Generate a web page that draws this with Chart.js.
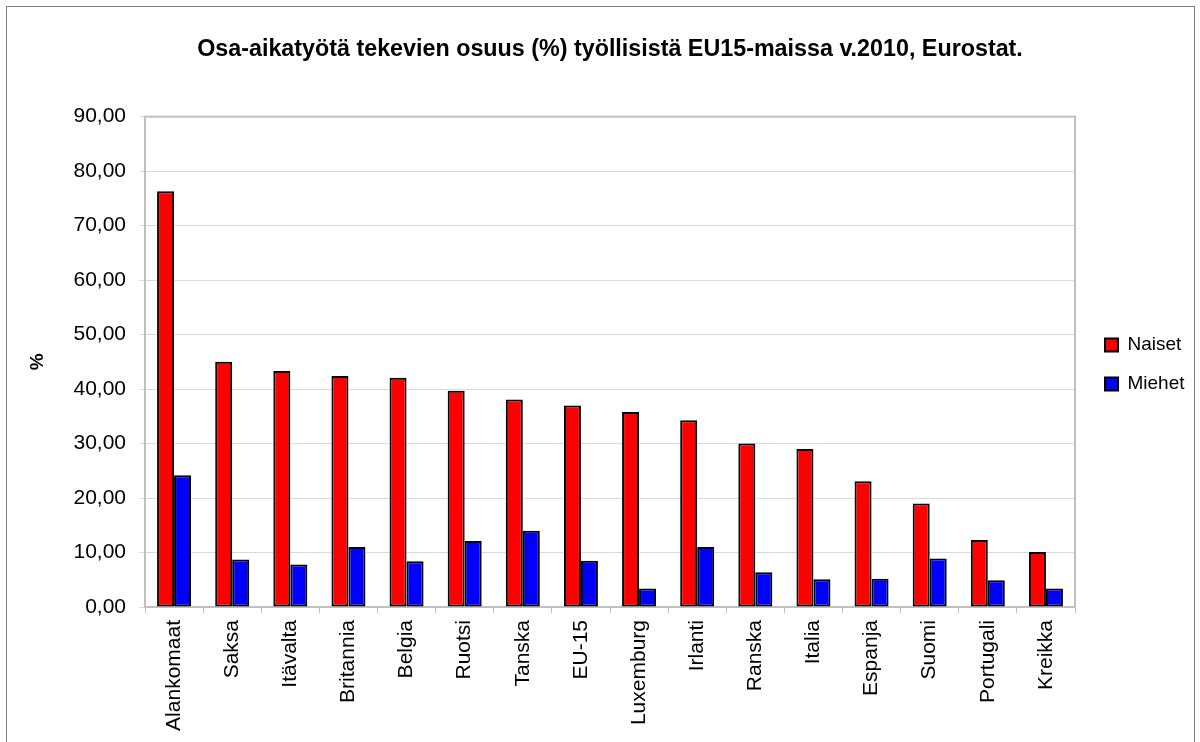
<!DOCTYPE html>
<html>
<head>
<meta charset="utf-8">
<script src="https://cdn.jsdelivr.net/npm/chart.js@4"></script>
<style>
  html, body { margin: 0; padding: 0; background: #fff; overflow: hidden; }
  #frame { position: absolute; left: 6px; top: 6px; width: 1187px; height: 800px; border: 1px solid #808080; pointer-events: none; }
  canvas { position: absolute; left: 0; top: 0; }
</style>
</head>
<body>
<div id="frame"></div>
<canvas id="osaAikaBar" width="1200" height="742"></canvas>
<script>
// maat, jarjestetty naisten osuuden mukaan
let maat = ["Alankomaat", "Saksa", "Itävalta", "Britannia", "Belgia", "Ruotsi", "Tanska", "EU-15",
    "Luxemburg", "Irlanti", "Ranska", "Italia", "Espanja", "Suomi", "Portugali", "Kreikka"];

let naiset = [76.3, 45.0, 43.3, 42.4, 42.1, 39.7, 38.1, 37.0, 35.8, 34.3, 30.0, 29.0, 23.1, 19.0, 12.3, 10.1];
let miehet = [24.2, 8.7, 7.8, 11.0, 8.4, 12.1, 14.0, 8.5, 3.4, 11.0, 6.4, 5.1, 5.2, 8.9, 4.9, 3.4];

let yMin = 0;
let yMax = 90;
let yStep = 10;

Chart.defaults.font.family = "'Liberation Sans', Arial, sans-serif";
Chart.defaults.color = "#000";

let ctx = document.getElementById("osaAikaBar").getContext("2d");

//harmaa kehys kuvaajan alueen ympari
let plotFrame = {
    id: "plotFrame",
    beforeDatasetsDraw(chart) {
        let a = chart.chartArea;
        let c = chart.ctx;
        c.save();
        c.strokeStyle = "#c0c0c0";
        c.lineWidth = 2;
        c.strokeRect(a.left, a.top, a.right - a.left, a.bottom - a.top);
        c.restore();
    }
};

//selitteen leveys ja paikka
let legendPlace = {
    id: "legendPlace",
    beforeLayout(chart) {
        let lg = chart.legend;
        if (lg && !lg._fixed) {
            let fit = lg.fit;
            lg.fit = function () {
                fit.call(this);
                this.width = 125;
            };
            lg._fixed = true;
        }
    },
    afterLayout(chart) {
        let lg = chart.legend;
        lg.left += 10;
        lg.right += 10;
        lg.top -= 6.5;
        lg.bottom -= 6.5;
    }
};

let chart = new Chart(ctx, {
    type: "bar",
    data: {
        labels: maat,
        datasets: [{
            label: "Naiset",
            data: naiset,
            backgroundColor: "#ff0000",
            borderColor: "#000000",
            borderWidth: 2,
            borderSkipped: false
        }, {
            label: "Miehet",
            data: miehet,
            backgroundColor: "#0000ff",
            borderColor: "#000000",
            borderWidth: 2,
            borderSkipped: false
        }]
    },
    options: {
        responsive: false,
        animation: false,
        categoryPercentage: 0.585,
        barPercentage: 1,
        layout: { padding: 0 },
        plugins: {
            title: {
                display: true,
                text: "Osa-aikatyötä tekevien osuus (%) työllisistä EU15-maissa v.2010, Eurostat.",
                font: { size: 23.3, weight: "bold" },
                color: "#000",
                fullSize: false,
                padding: { top: 35.5, bottom: 53.2 }
            },
            legend: {
                position: "right",
                labels: {
                    font: { size: 19 },
                    boxWidth: 13,
                    boxHeight: 13,
                    padding: 20,
                    color: "#000"
                }
            },
            tooltip: { enabled: false }
        },
        scales: {
            x: {
                grid: {
                    offset: true,
                    drawOnChartArea: false,
                    tickLength: 6,
                    color: "#c0c0c0",
                    lineWidth: 1
                },
                border: { display: false },
                ticks: {
                    minRotation: 90,
                    maxRotation: 90,
                    autoSkip: false,
                    padding: 7,
                    font: { size: 21 },
                    color: "#000"
                },
                afterFit(scale) { scale.height = 135; }
            },
            y: {
                min: yMin,
                max: yMax,
                ticks: {
                    stepSize: yStep,
                    padding: 13,
                    font: { size: 21 },
                    color: "#000",
                    callback: v => v.toFixed(2).replace(".", ",")
                },
                grid: {
                    color: "#d9d9d9",
                    lineWidth: 1,
                    tickLength: 6
                },
                border: { display: false },
                title: {
                    display: true,
                    text: "%",
                    font: { size: 19, weight: "bold" },
                    color: "#000",
                    padding: { top: 26.6, bottom: 0 }
                },
                afterFit(scale) { scale.width = 145; }
            }
        }
    },
    plugins: [plotFrame, legendPlace]
});
</script>
</body>
</html>
